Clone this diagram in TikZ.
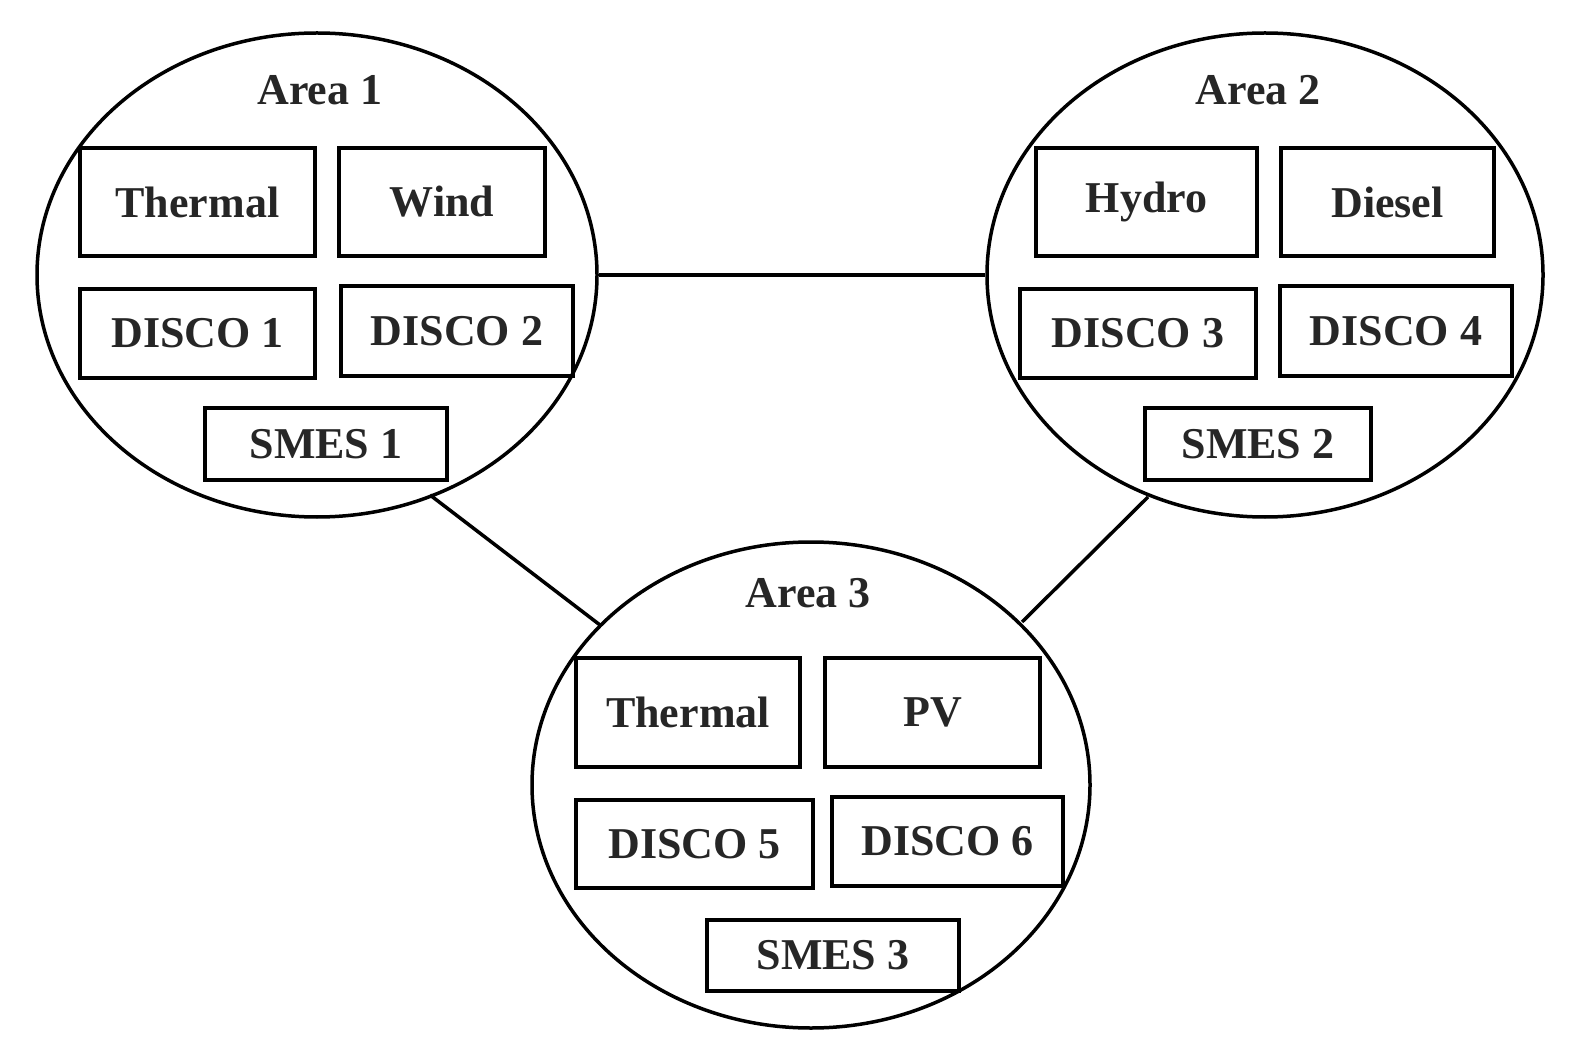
\documentclass[tikz,border=0pt]{standalone}
\usepackage{fontspec}
\setmainfont{Liberation Serif}
\usetikzlibrary{shapes.geometric}
\newcommand\bx[6]{\node[box,minimum width={(#4-#2)*1pt},minimum height={(#5-#3)*1pt}] (#1) at ({(#2+#4)/2},{(#3+#5)/2}) {#6};}
\begin{document}
\begin{tikzpicture}[x=1pt,y=-1pt,
  area/.style={ellipse,draw,line width=3.5pt,inner sep=0pt},
  box/.style={rectangle,draw,line width=3.5pt,inner sep=0pt,font=\fontsize{44}{48}\selectfont\bfseries,text=black!85},
  lbl/.style={font=\fontsize{44}{48}\selectfont\bfseries,text=black!85},
  link/.style={line width=3.5pt}]
\useasboundingbox (0,0) rectangle (1577,1064);
\node[area,minimum width=560pt,minimum height=484pt] (e1) at (317,275) {};
\node[area,minimum width=556pt,minimum height=484pt] (e2) at (1265,275) {};
\node[area,minimum width=558pt,minimum height=486pt] (e3) at (811,785) {};
\node[lbl] (a1) at (320,90) {Area 1};
\node[lbl] (a2) at (1258,90) {Area 2};
\node[lbl] (a3) at (808,593) {Area 3};
\bx{t1}{80}{148}{315}{256}{Thermal}
\bx{w1}{339}{148}{545}{256}{Wind}
\bx{d1}{80}{289}{315}{378}{DISCO 1}
\bx{d2}{341}{286}{573}{376}{DISCO 2}
\bx{s1}{205}{408}{447}{480}{SMES 1}
\bx{h2}{1036}{148}{1257}{256}{Hydro}
\bx{g2}{1281}{148}{1494}{256}{Diesel}
\bx{d3}{1020}{289}{1256}{378}{DISCO 3}
\bx{d4}{1280}{286}{1512}{376}{DISCO 4}
\bx{s2}{1145}{408}{1371}{480}{SMES 2}
\bx{t3}{576}{658}{800}{767}{Thermal}
\bx{p3}{825}{658}{1040}{767}{PV}
\bx{d5}{576}{800}{813}{888}{DISCO 5}
\bx{d6}{832}{797}{1063}{886}{DISCO 6}
\bx{s3}{707}{920}{959}{991}{SMES 3}
\coordinate (c1) at (430,495);
\coordinate (c3a) at (600,625);
\coordinate (c2) at (1148,497);
\coordinate (c3b) at (1022,622);
\draw[link] (e1.east) -- (e2.west);
\draw[link] (c1) -- (c3a);
\draw[link] (c2) -- (c3b);
\end{tikzpicture}
\end{document}
